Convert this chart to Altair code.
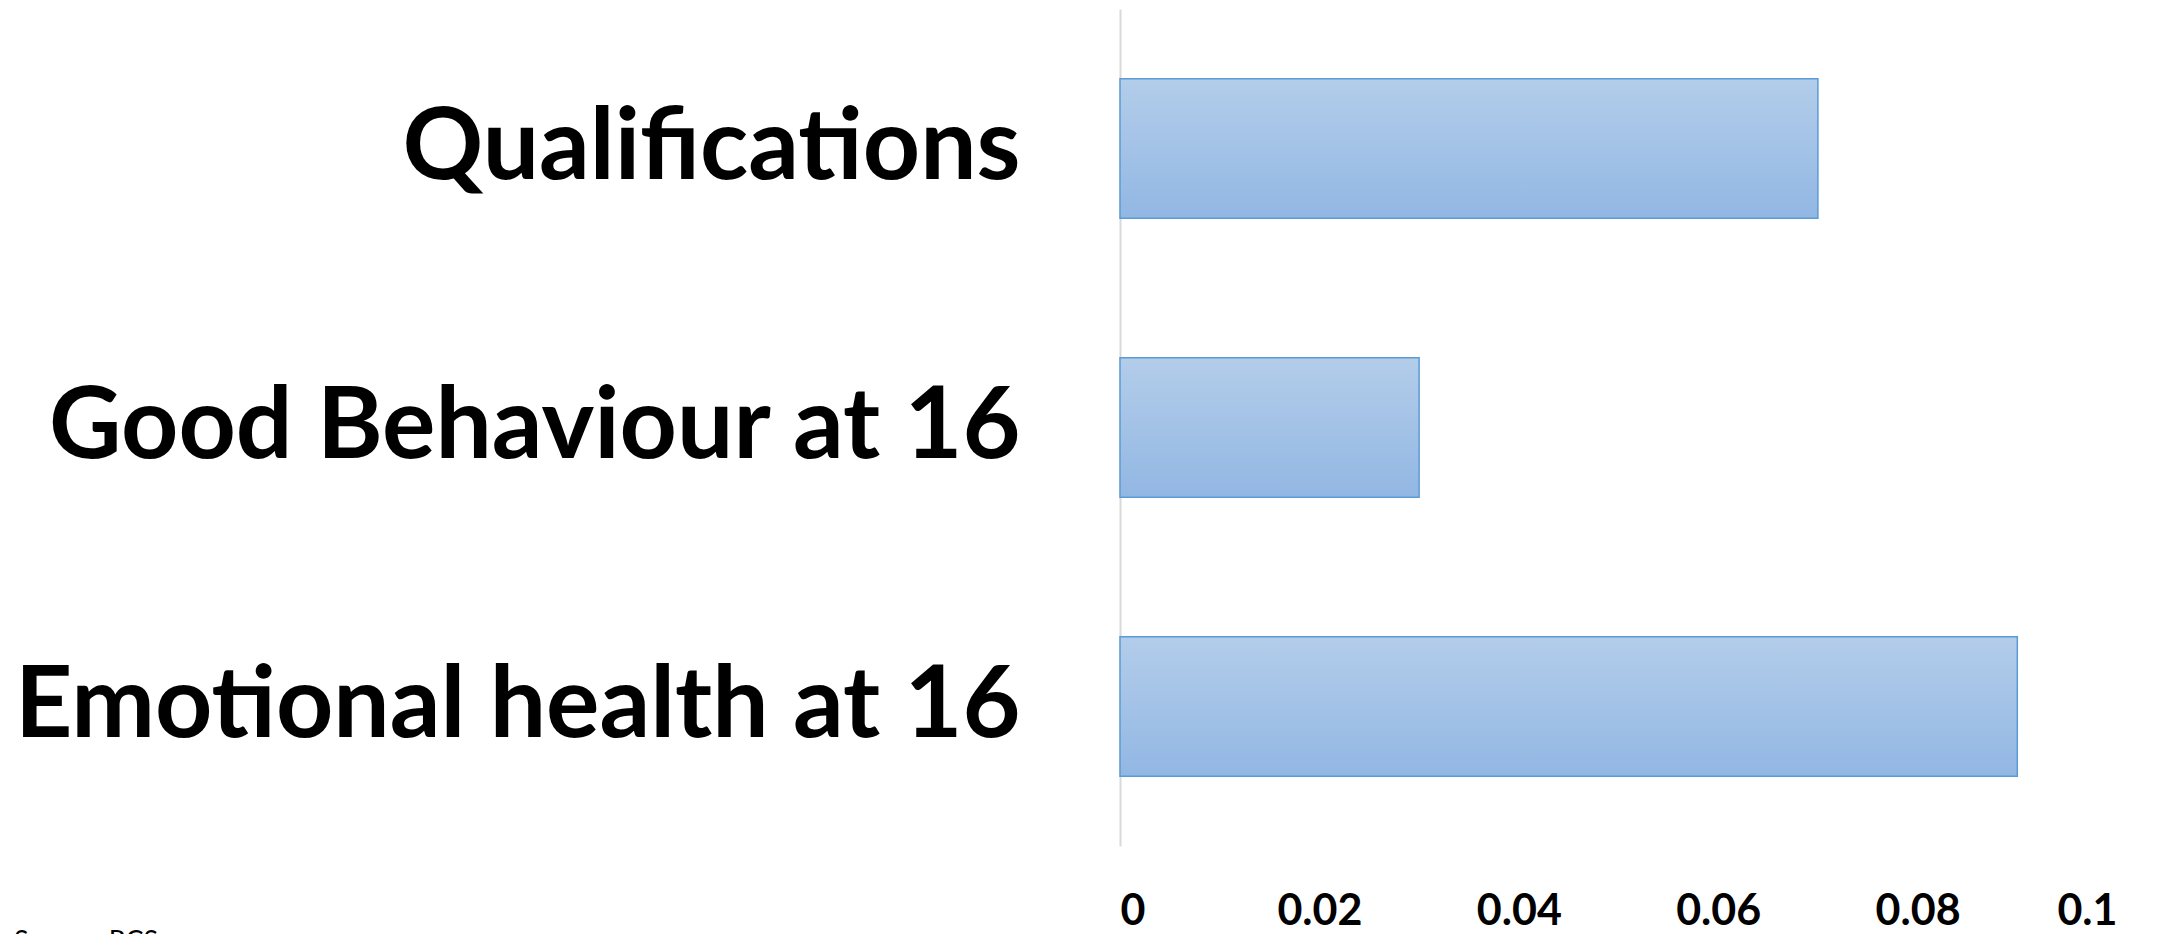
import altair as alt
import pandas as pd

categories = ["Qualifications", "Good Behaviour at 16", "Emotional health at 16"]
values = [0.07, 0.03, 0.09]
x_ticks = [0, 0.02, 0.04, 0.06, 0.08, 0.1]
source_note = ["Source: RCS"]

df = pd.DataFrame({"category": categories, "value": values})
src = pd.DataFrame({"note": source_note})

grad = alt.Gradient(
    gradient="linear",
    stops=[alt.GradientStop(color="#B3CDEA", offset=0), alt.GradientStop(color="#92B7E3", offset=1)],
    x1=0, x2=0, y1=0, y2=1,
)

bars = alt.Chart(df).mark_bar(fill=grad, stroke="#5B9BD5", strokeWidth=1.5).encode(
    y=alt.Y(
        "category:N",
        sort=categories,
        scale=alt.Scale(paddingInner=0.5, paddingOuter=0.25),
        axis=alt.Axis(
            title=None, labelFont="Lato", labelFontWeight="bold", labelFontSize=100,
            labelColor="black", labelPadding=100, ticks=False, tickSize=0,
            domainColor="#D9D9D9", domainWidth=2, labelLimit=0, grid=False,
        ),
    ),
    x=alt.X(
        "value:Q",
        scale=alt.Scale(domain=[0, 0.1], nice=False, zero=True),
        axis=alt.Axis(
            title=None, values=x_ticks, format=".2~f", labelFont="Lato",
            labelFontWeight="bold", labelFontSize=43, labelColor="black",
            labelPadding=44, ticks=False, tickSize=0, domain=False, grid=False,
        ),
    ),
)

note = alt.Chart(src).mark_text(
    align="left", baseline="top", font="Lato", fontSize=27, color="black"
).encode(text="note:N", x=alt.value(-1106), y=alt.value(920))

chart = alt.layer(bars, note).properties(
    width=997,
    height=837,
    padding={"left": 1112, "top": 1, "right": 52, "bottom": 88},
    autosize=alt.AutoSizeParams(type="none"),
).configure_view(stroke=None)

chart.save("out.html", embed_options={"renderer": "svg", "actions": False})
